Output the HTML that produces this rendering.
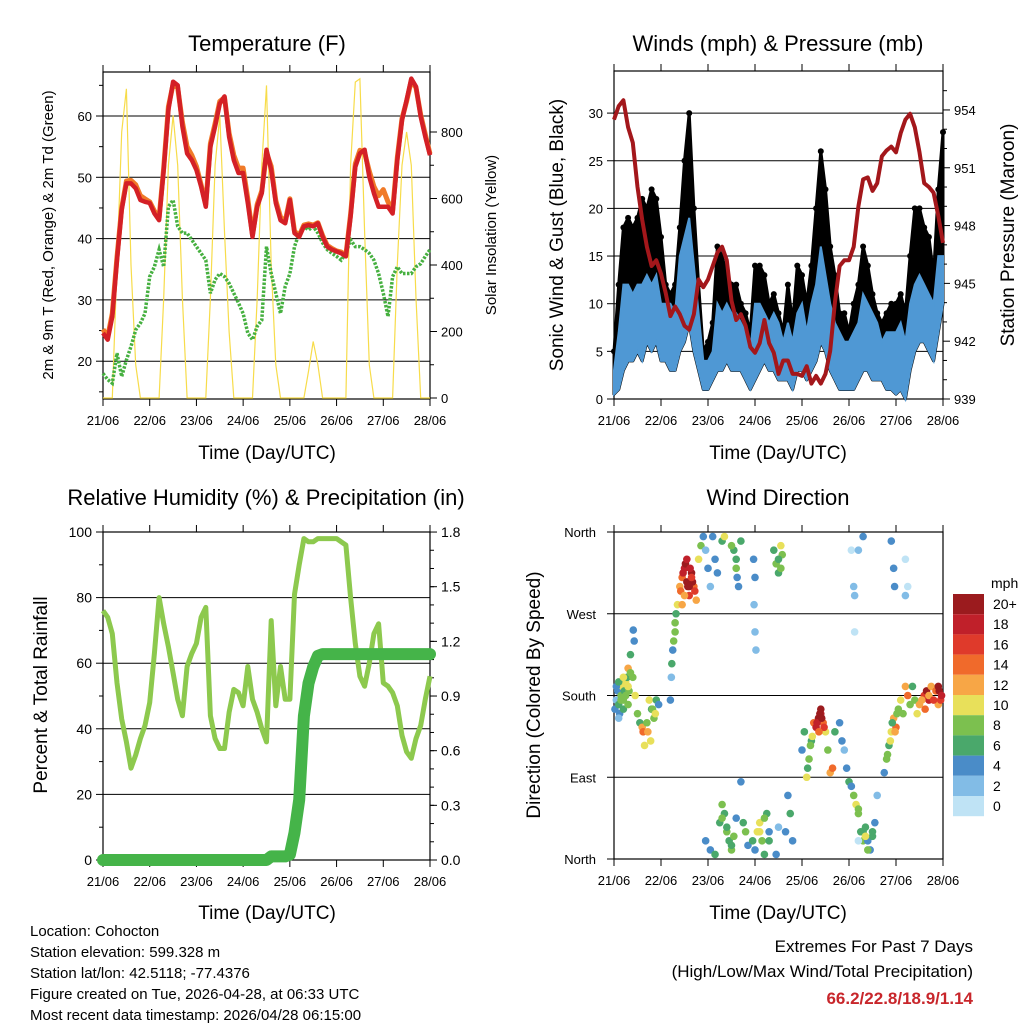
<!DOCTYPE html>
<html><head><meta charset="utf-8">
<style>
html,body{margin:0;padding:0;background:#fff;}
svg{display:block;font-family:"Liberation Sans",Arial,sans-serif;}
</style></head>
<body>
<svg id="chart" width="1024" height="1024" viewBox="0 0 1024 1024" xmlns="http://www.w3.org/2000/svg">
<rect width="1024" height="1024" fill="#fff"/>
<text x="267" y="51" font-size="22" text-anchor="middle">Temperature (F)</text>
<text x="778" y="51" font-size="22" text-anchor="middle">Winds (mph) &amp; Pressure (mb)</text>
<text x="266" y="505" font-size="22" text-anchor="middle">Relative Humidity (%) &amp; Precipitation (in)</text>
<text x="778" y="505" font-size="22" text-anchor="middle">Wind Direction</text>
<text x="267" y="459" font-size="19" text-anchor="middle">Time (Day/UTC)</text>
<text x="778" y="459" font-size="19" text-anchor="middle">Time (Day/UTC)</text>
<text x="267" y="919" font-size="19" text-anchor="middle">Time (Day/UTC)</text>
<text x="778" y="919" font-size="19" text-anchor="middle">Time (Day/UTC)</text>
<text transform="translate(53,235) rotate(-90)" font-size="15" text-anchor="middle">2m &amp; 9m T (Red, Orange) &amp; 2m Td (Green)</text>
<text transform="translate(496,235) rotate(-90)" font-size="15" text-anchor="middle">Solar Insolation (Yellow)</text>
<text transform="translate(563,235) rotate(-90)" font-size="19" text-anchor="middle">Sonic Wind &amp; Gust (Blue, Black)</text>
<text transform="translate(1014,235) rotate(-90)" font-size="19" text-anchor="middle">Station Pressure (Maroon)</text>
<text transform="translate(47,695) rotate(-90)" font-size="19" text-anchor="middle">Percent &amp; Total Rainfall</text>
<text transform="translate(540,695) rotate(-90)" font-size="19" text-anchor="middle">Direction (Colored By Speed)</text>
<g font-size="15">
<text x="30" y="936">Location: Cohocton</text>
<text x="30" y="957">Station elevation: 599.328 m</text>
<text x="30" y="978">Station lat/lon: 42.5118; -77.4376</text>
<text x="30" y="999">Figure created on Tue, 2026-04-28, at 06:33 UTC</text>
<text x="30" y="1020">Most recent data timestamp: 2026/04/28 06:15:00</text>
</g>
<g text-anchor="end">
<text x="973" y="952" font-size="17">Extremes For Past 7 Days</text>
<text x="973" y="977" font-size="17">(High/Low/Max Wind/Total Precipitation)</text>
<text x="973" y="1004" font-size="17" font-weight="bold" fill="#c8262b">66.2/22.8/18.9/1.14</text>
</g>
<g id="layer"></g>
</svg>
<script>
// ---- data (t = 0.1 day steps from 21/06 00UTC) ----
const dayLabels = ["21/06","22/06","23/06","24/06","25/06","26/06","27/06","28/06"];
const tempRed = [24.6,23.5,27.3,36.5,44.7,49,49,48.2,46.3,46,45.8,44.1,43,51.2,61,65.6,65,58.3,53.9,52.8,51.2,48.5,45.2,55,58.3,62,63.2,56.6,52.8,50.7,50.7,45.8,40.3,45.2,47.4,54.5,51.2,45.8,43,42.5,46.3,40.9,40.3,42,42.2,42,42.5,40.3,38.7,38.2,37.9,37.6,37.1,43.6,51.7,53.9,54.5,50.1,47.4,45.2,45.2,45.2,44.1,52.8,59.3,62.6,66.1,64.8,59.9,56.6,53.6];
const tempOrange = [25.2,24,27.8,37,45,49.4,49.5,48.8,47,46.5,46,44.5,43.4,51.5,61.5,65.2,64.6,59,55,53.6,51.8,48.8,45.6,55.5,58.8,62.4,63,57.2,53.6,51.5,51.5,46.5,40.6,45.6,47.8,54,51.8,46.2,43.5,42.8,46.5,41.2,40.5,42.2,42.4,42.2,42.6,40.5,38.9,38.4,38,37.8,37.3,44,52.2,54.4,54,51,48.5,47,48,46,44.5,53.2,59.6,62.4,65.8,64.6,60.2,57,53.8];
const dewpoint = [18,17,16.4,21.3,17.5,20.2,22.4,25.1,26.2,27.8,33.8,35.4,38.2,35.4,45.2,46.3,42,40.9,40.9,39.8,38.7,37.6,36.5,31.1,33.3,34.3,33.8,32.7,31.1,29.5,27.8,24.6,23.5,25.7,26.7,38.7,34.3,31.1,27.8,32.2,34.3,38.7,40.9,42,41.4,42,40.9,39.3,38.2,37.6,37.1,36.5,37.6,39.8,38.7,38.7,38.2,37.6,36.5,34.3,31.1,27.3,33.8,35.4,34.3,34.3,34.3,35.4,35.9,37.1,38.2];
const solar = [0,0,0,400,800,930,400,100,0,0,0,0,0,300,700,850,700,300,0,0,0,0,0,300,700,850,500,200,0,0,0,0,0,300,700,940,400,100,0,0,0,0,0,0,80,170,100,0,0,0,0,0,0,700,950,960,500,100,0,0,0,0,0,400,700,800,700,300,0,0,0];
const pressure = [953.5,954.2,954.5,953.1,952.3,950,948.3,946.9,945.9,946.2,945.5,944.5,943.3,943.8,943.4,942.8,942.6,943.4,945.2,944.8,945.2,945.9,946.6,946.9,946.2,944.1,943.1,943.4,942.8,941.7,941.4,941.9,943.1,941.9,941.4,940.3,941,941,940.3,940.3,940.2,940.7,939.8,940.2,939.8,940.3,941.5,944,945.9,946.2,946.2,946.9,949,950.4,950.5,949.8,950.2,951.6,951.9,952.1,951.8,952.8,953.5,953.8,953.1,951.8,950.2,950,949.7,948.5,947.1];
const gust = [5,12,18,19,18,19,21,20,22,21,17,12,11,12,18,25,30,20,12,5,6,8,16,15,13,12,12,10,9,7,14,14,13,10,11,9,7,12,8,14,13,10,14,20,26,22,16,13,9,9,7,10,12,16,14,11,9,8,9,10,10,11,9,15,20,20,18,17,13,22,28];
const windHi = [3,7,12,12,11,12,12,13,12,13,10,10,10,9,15,17,19,14,9,4,4,5,10,9,10,9,9,8,7,5,10,10,9,8,9,8,6,8,6,9,10,7,10,12,16,13,10,8,7,6,6,7,8,11,10,9,8,6,7,7,7,8,6,10,12,13,12,11,10,15,15];
const windLo = [0.5,1,3,4,4,5,4,6,5,6,4,4,3,3,5,6,8,5,3,1,1,2,3,3,4,3,3,3,2,1,2,3,4,3,3,2,2,2,1,3,3,2,3,4,6,5,3,2,1,1,1,1,2,3,3,2,2,2,1,1,0.5,1,0,3,5,6,6,5,4,7,10];
const rh = [76,74,69,54,43,36,28,32,37,41,48,63,80,72,65,57,49,44,59,63,66,74,77,44,37,34,34,45,52,51,47,59,49,45,40,36,73,47,59,49,49,81,90,98,97,97,98,98,98,98,98,97,96,80,66,56,53,60,69,72,54,53,51,47,38,33,31,37,41,49,56];
const precip = [0,0,0,0,0,0,0,0,0,0,0,0,0,0,0,0,0,0,0,0,0,0,0,0,0,0,0,0,0,0,0,0,0,0,0,0,0.02,0.02,0.02,0.02,0.03,0.15,0.33,0.79,0.97,1.06,1.12,1.13,1.13,1.13,1.13,1.13,1.13,1.13,1.13,1.13,1.13,1.13,1.13,1.13,1.13,1.13,1.13,1.13,1.13,1.13,1.13,1.13,1.13,1.13,1.13];
const dirTime = [0.02,0.05,0.08,0.1,0.12,0.15,0.18,0.2,0.22,0.25,0.28,0.3,0.32,0.35,0.4,0.41,0.43,0.45,0.5,0.55,0.6,0.62,0.65,0.7,0.75,0.8,0.85,0.9,0.95,1.2,1.22,1.25,1.3,1.32,1.35,1.4,1.45,1.5,1.55,1.6,1.65,1.7,1.75,1.8,1.85,1.9,1.95,2.0,2.05,2.1,2.15,2.2,2.3,2.35,1.95,2.05,2.15,2.25,2.3,2.35,2.4,2.45,2.5,2.6,2.7,2.75,2.8,2.85,2.95,3.0,3.05,3.1,3.15,3.2,3.25,3.3,3.45,3.5,2.55,2.6,2.65,2.7,2.97,2.98,3.0,3.02,3.0,3.4,3.45,3.5,3.55,3.58,3.65,3.7,3.75,3.8,4.0,4.05,4.1,4.15,4.2,4.25,4.3,4.35,4.4,4.45,4.5,4.55,4.6,4.65,4.7,4.8,4.85,4.9,4.95,5.0,5.05,5.1,5.15,5.2,5.25,5.3,5.35,5.4,5.45,5.5,5.55,5.6,5.75,5.8,5.85,5.9,5.95,6.0,6.05,6.1,6.15,6.2,6.25,6.3,6.35,6.4,6.5,6.6,6.65,6.7,6.75,6.9,6.95,5.05,5.1,5.12,5.12,5.2,5.3,5.9,5.95,5.97,6.2,6.2,6.25,5.2,
 1.42,1.47,1.52,1.57,1.62,1.67,1.72,1.5,1.6,1.55,1.65,1.45,0.05,0.1,0.15,0.2,0.25,0.3,0.35,0.1,0.2,0.3,0.72,0.78,0.82,0.88,1.23,1.27,1.3,4.32,4.38,4.42,4.47,4.4,4.36,4.12,4.18,4.22,5.82,5.88,5.92,5.98,6.02,6.45,6.55,6.62,6.7,6.8,6.85,6.9,6.92,6.97,2.3,2.4,2.5,2.55,3.1,3.2,3.3,5.2,5.3,5.35,5.4,5.5,2.5,2.6,2.62,3.5,3.55];
const dirDeg = [165,175,185,170,160,180,190,175,185,195,200,210,185,225,200,252,240,180,160,150,145,140,125,150,175,165,155,175,170,175,200,230,250,270,280,300,310,320,305,290,315,300,285,330,345,355,340,320,300,355,330,315,350,355,20,10,5,40,60,50,30,20,10,45,85,40,30,15,20,10,30,40,20,5,50,30,5,35,340,320,300,350,330,280,250,230,310,340,325,315,345,335,30,70,50,20,120,140,90,110,130,150,145,155,160,150,140,120,95,100,140,150,130,120,100,85,80,70,60,50,30,20,35,20,10,25,40,70,95,110,125,140,155,145,165,175,160,190,180,170,190,175,170,180,185,175,190,170,175,340,300,290,250,340,355,350,320,300,330,290,300,20,
 295,315,325,300,320,305,295,290,300,330,310,280,190,195,175,200,180,190,205,155,165,170,140,130,165,160,215,240,260,150,160,155,145,165,140,100,125,135,115,130,150,140,160,160,175,165,180,175,185,190,185,180,45,35,15,25,30,45,20,55,30,25,10,30,345,330,310,330,320];
const dirSpeed = [4,2,4,6,4,8,10,8,6,10,6,12,8,6,8,4,4,10,8,6,12,14,10,8,10,6,8,6,4,4,2,4,8,6,10,12,14,18,20,16,20,14,12,10,8,4,2,4,2,4,4,4,6,10,4,4,6,6,8,6,8,6,8,4,4,6,8,4,6,4,10,10,8,6,6,4,4,2,6,8,4,6,4,2,2,2,4,6,8,6,10,8,4,4,6,4,4,6,10,8,6,14,18,20,18,14,10,8,12,14,6,4,4,2,4,6,4,8,10,8,6,8,6,4,4,6,4,2,4,8,6,10,12,14,8,10,8,12,14,8,6,8,12,16,20,18,12,12,16,0,2,2,0,2,4,4,4,4,0,2,0,0,
 14,18,20,20,18,20,16,12,20,18,16,12,4,6,8,10,8,10,8,2,6,8,12,10,8,10,6,8,8,18,20,20,16,20,14,6,8,10,8,10,6,12,8,10,12,14,12,16,14,20,20,18,8,6,6,8,10,8,6,8,6,10,8,6,8,6,4,6,8];
const legendLabels = ["20+","18","16","14","12","10","8","6","4","2","0"];
const speedColors = ["#bfe3f5","#82bce6","#4a8cc8","#4aa86b","#7cc04f","#e8e05a","#f7a646","#f06a2b","#df3a2b","#c0202a","#9b1b1e"];
const leftTempTicks = [20,30,40,50,60];
const solarTicks = [0,200,400,600,800];
const windTicks = [0,5,10,15,20,25,30];
const pressureTicks = [939,942,945,948,951,954];
const rhTicks = [0,20,40,60,80,100];
const precipTicks = [0,0.3,0.6,0.9,1.2,1.5,1.8];
const dirTicks = [0,90,180,270,360];
const dirNames = ["North","East","South","West","North"];

const NS="http://www.w3.org/2000/svg";
const layer=document.getElementById('layer');
function mk(tag,attrs,parent){const e=document.createElementNS(NS,tag);for(const k in attrs)e.setAttribute(k,attrs[k]);(parent||layer).appendChild(e);return e;}

const P1={x0:103,x1:430,y0:72,y1:399}, P2={x0:614,x1:943,y0:71,y1:399}, P3={x0:103,x1:430,y0:532,y1:860}, P4={x0:614,x1:943,y0:532,y1:859};
const tx=(p,t)=>p.x0+(p.x1-p.x0)*t/7;
const yTemp=v=>116+(60-v)*6.13;
const ySolar=v=>398-v*0.3325;
const yWind=v=>399-v*9.53;
const yPres=v=>399-(v-939)*19.27;
const yRH=v=>860-v*3.28;
const yPrecip=v=>860-v*182.2;
const yDir=v=>859-v*0.9083;
const ti=i=>i*0.1;

function frame(p,name){
  const g=mk('g',{});
  
  
  for(let d=0;d<8;d++){
    const x=tx(p,d);
    mk('line',{x1:x,x2:x,y1:p.y1,y2:p.y1+7,stroke:'#000','stroke-width':1},g);
    mk('line',{x1:x,x2:x,y1:p.y0,y2:p.y0-7,stroke:'#000','stroke-width':1},g);
    const t=mk('text',{x:x,y:p.y1+26,'font-size':13,'text-anchor':'middle'},g);
    
    
    t.textContent=dayLabels[d];
  }
  return g;
}
function hgrid(p,ys,g){ys.forEach(y=>mk('line',{x1:p.x0,x2:p.x1,y1:y,y2:y,stroke:'#000','stroke-width':1},g));}
function yTicks(p,vals,fy,side,fmt,g,fs){
  vals.forEach(v=>{const y=fy(v);
    if(side==='L'){mk('line',{x1:p.x0-7,x2:p.x0,y1:y,y2:y,stroke:'#000'},g);
      const t=mk('text',{x:p.x0-11,y:y+5,'font-size':fs||13,'text-anchor':'end'},g);t.textContent=fmt(v);}
    else{mk('line',{x1:p.x1,x2:p.x1+7,y1:y,y2:y,stroke:'#000'},g);
      const t=mk('text',{x:p.x1+11,y:y+5,'font-size':fs||13,'text-anchor':'start'},g);t.textContent=fmt(v);}
  });
}
function border(p,g){mk('rect',{x:p.x0,y:p.y0,width:p.x1-p.x0,height:p.y1-p.y0,fill:'none',stroke:'#000','stroke-width':1.2},g);}
function path(arr,p,fy){return arr.map((v,i)=>(i?'L':'M')+tx(p,ti(i)).toFixed(1)+','+fy(v).toFixed(1)).join('');}

// ---- Panel 1 ----
let g=frame(P1,'temperature');
hgrid(P1,leftTempTicks.map(yTemp),g);
yTicks(P1,leftTempTicks,yTemp,'L',v=>v,g);
yTicks(P1,solarTicks,ySolar,'R',v=>v,g);
for(let v=100;v<900;v+=200){const y=ySolar(v);mk('line',{x1:P1.x1,x2:P1.x1+4,y1:y,y2:y,stroke:'#000'},g);}
for(let v=15;v<70;v+=10){const y=yTemp(v);if(y>P1.y0&&y<P1.y1)mk('line',{x1:P1.x0-4,x2:P1.x0,y1:y,y2:y,stroke:'#000'},g);}
let e;
e=mk('path',{d:path(solar,P1,ySolar),fill:'none',stroke:'#f7dc4a','stroke-width':1.2});


e=mk('path',{d:path(dewpoint,P1,yTemp),fill:'none',stroke:'#46b040','stroke-width':3.5,'stroke-dasharray':'2.5 1.5'});


e=mk('path',{d:path(tempOrange,P1,yTemp),fill:'none',stroke:'#f07a28','stroke-width':5,'stroke-linejoin':'round'});


e=mk('path',{d:path(tempRed,P1,yTemp),fill:'none',stroke:'#d42026','stroke-width':4.5,'stroke-linejoin':'round'});


border(P1,g);

// ---- Panel 2 ----
g=frame(P2,'winds');
hgrid(P2,windTicks.slice(1).map(yWind),g);
yTicks(P2,windTicks,yWind,'L',v=>v,g);
yTicks(P2,pressureTicks,yPres,'R',v=>v,g);
for(let v=940;v<956;v++){if(v%3){const y=yPres(v);if(y>P2.y0)mk('line',{x1:P2.x1,x2:P2.x1+4,y1:y,y2:y,stroke:'#000'},g);}}
function band(top,bot,p,fy){let s=top.map((v,i)=>(i?'L':'M')+tx(p,ti(i)).toFixed(1)+','+fy(v).toFixed(1)).join('');
  for(let i=bot.length-1;i>=0;i--)s+='L'+tx(p,ti(i)).toFixed(1)+','+fy(bot[i]).toFixed(1);return s+'Z';}
e=mk('path',{d:band(gust,windLo,P2,yWind),fill:'#000',stroke:'#000','stroke-width':3,'stroke-linejoin':'round'});


gust.forEach((v,i)=>{const c=mk('circle',{cx:tx(P2,ti(i)),cy:yWind(v),r:3,fill:'#000'});
  
  });
e=mk('path',{d:band(windHi,windLo,P2,yWind),fill:'#4f98d4',stroke:'#4f98d4','stroke-width':2});


e=mk('path',{d:path(pressure,P2,yPres),fill:'none',stroke:'#a3171b','stroke-width':4,'stroke-linejoin':'round'});


border(P2,g);

// ---- Panel 3 ----
g=frame(P3,'humidity');
hgrid(P3,rhTicks.slice(1,5).map(yRH),g);
yTicks(P3,rhTicks,yRH,'L',v=>v,g,14);
yTicks(P3,precipTicks,yPrecip,'R',v=>v.toFixed(1),g,14);
for(let v=10;v<100;v+=20){const y=yRH(v);mk('line',{x1:P3.x0-4,x2:P3.x0,y1:y,y2:y,stroke:'#000'},g);}
for(let v=0.1;v<1.8;v+=0.1){const y=yPrecip(v);mk('line',{x1:P3.x1,x2:P3.x1+4,y1:y,y2:y,stroke:'#000'},g);}
e=mk('path',{d:path(rh,P3,yRH),fill:'none',stroke:'#8dc94e','stroke-width':5,'stroke-linejoin':'round'});


e=mk('path',{d:path(precip,P3,yPrecip),fill:'none',stroke:'#45b449','stroke-width':12,'stroke-linejoin':'round','stroke-linecap':'round'});


border(P3,g);

// ---- Panel 4 ----
g=frame(P4,'wind-direction');
hgrid(P4,dirTicks.map(yDir),g);
dirTicks.forEach((v,i)=>{const y=yDir(v);mk('line',{x1:P4.x0-7,x2:P4.x0,y1:y,y2:y,stroke:'#000'},g);
  const t=mk('text',{x:P4.x0-18,y:y+5,'font-size':13,'text-anchor':'end'},g);
  
  
  t.textContent=dirNames[i];});
dirTime.forEach((t,i)=>{const idx=Math.min(10,Math.round(dirSpeed[i]/2));
  const c=mk('circle',{cx:tx(P4,t),cy:yDir(dirDeg[i]),r:3.8,fill:speedColors[idx]});
  
  });
border(P4,g);

// colorbar legend
const lg=mk('g',{});


let t0=mk('text',{x:991,y:588,'font-size':14},lg);t0.textContent='mph';
legendLabels.forEach((lab,i)=>{const y=594+i*20.2;
  const r=mk('rect',{x:953,y:y,width:31,height:20.2,fill:speedColors[10-i]},lg);
  
  
  const t=mk('text',{x:993,y:y+15,'font-size':14},lg);
  
  
  t.textContent=lab;});
</script>
</body></html>
